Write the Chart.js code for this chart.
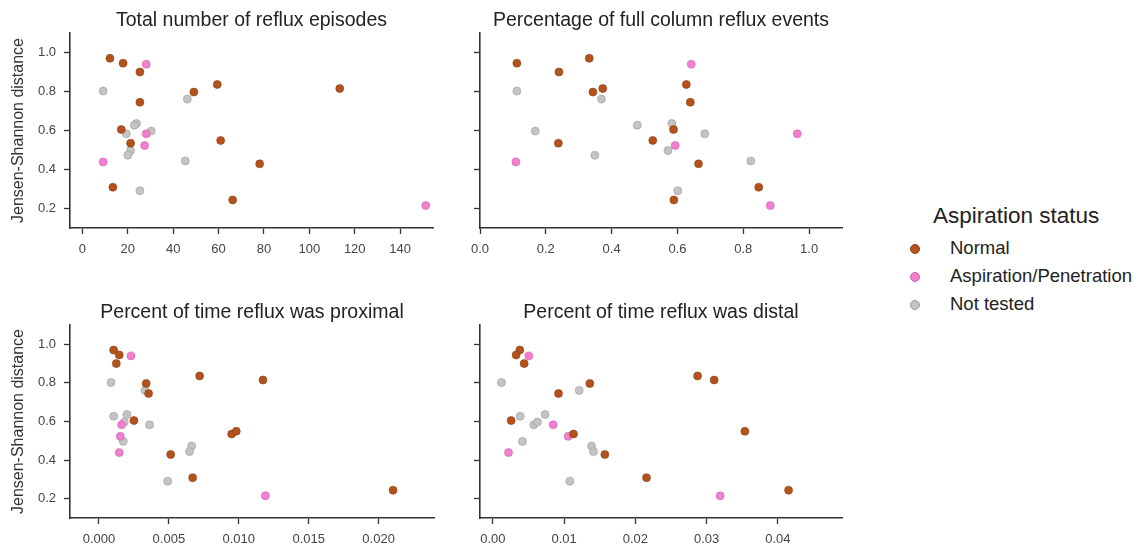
<!DOCTYPE html>
<html>
<head>
<meta charset="utf-8">
<script src="https://cdn.jsdelivr.net/npm/chart.js@4"></script>
<style>
body { margin: 0; background: #fff; width: 1140px; height: 550px; position: relative; overflow: hidden; font-family: "Liberation Sans", Arial, sans-serif; }
canvas { position: absolute; }
#legend { position: absolute; left: 0; top: 0; color: #222; }
#legend .ttl { position: absolute; left: 933px; top: 203px; font-size: 22.5px; white-space: nowrap; }
#legend .item { position: absolute; left: 950px; font-size: 18.5px; white-space: nowrap; line-height: 22px; }
#legend .dot { position: absolute; width: 8px; height: 8px; border-radius: 50%; left: 910px; }
</style>
</head>
<body>
<canvas id="c1" width="440" height="270" style="left:0;top:0"></canvas>
<canvas id="c2" width="420" height="270" style="left:440px;top:0"></canvas>
<canvas id="c3" width="440" height="270" style="left:0;top:292px"></canvas>
<canvas id="c4" width="420" height="270" style="left:440px;top:292px"></canvas>
<div id="legend"></div>
<script>
// Jensen-Shannon distance per subject, grouped by aspiration status
var statusLabels = ['Normal', 'Aspiration/Penetration', 'Not tested'];
var statusColors = ['#b3521c', '#f27fcf', '#c4c4c4'];
var statusEdges = ['#8f4216', '#c964a8', '#9a9a9a'];

var jsdNormal = [0.97, 0.945, 0.90, 0.745, 0.797, 0.836, 0.815, 0.605, 0.535, 0.549, 0.429, 0.309, 0.244];
var jsdAsp = [0.94, 0.583, 0.523, 0.439, 0.215];
var jsdNotTested = [0.802, 0.761, 0.636, 0.627, 0.583, 0.597, 0.497, 0.473, 0.444, 0.291];

// x values, same order as the jsd arrays
var totalNormal = [12.1, 17.9, 25.3, 25.3, 49.1, 59.4, 113.4, 17.1, 21.2, 60.9, 78.1, 13.4, 66.2];
var totalAsp = [28.1, 28.1, 27.4, 9.1, 151.3];
var totalNotTested = [9.1, 46.2, 23.8, 22.9, 19.3, 30.3, 21.2, 20.0, 45.3, 25.3];

var fullColNormal = [0.332, 0.112, 0.240, 0.639, 0.343, 0.627, 0.373, 0.588, 0.238, 0.525, 0.664, 0.847, 0.589];
var fullColAsp = [0.642, 0.964, 0.593, 0.109, 0.882];
var fullColNotTested = [0.112, 0.369, 0.583, 0.478, 0.683, 0.168, 0.571, 0.349, 0.823, 0.601];

var proxNormal = [0.00105, 0.00145, 0.00124, 0.00355, 0.00338, 0.0072, 0.01173, 0.0025, 0.00949, 0.00982, 0.00513, 0.0067, 0.02103];
var proxAsp = [0.00229, 0.00162, 0.00153, 0.00145, 0.0119];
var proxNotTested = [0.00086, 0.00329, 0.002, 0.00105, 0.00362, 0.00181, 0.00174, 0.00663, 0.00648, 0.00491];

var distNormal = [0.00379, 0.00327, 0.0044, 0.00922, 0.01361, 0.02873, 0.03106, 0.00257, 0.01132, 0.03537, 0.01572, 0.02157, 0.0415];
var distAsp = [0.00505, 0.00847, 0.01057, 0.0022, 0.0319];
var distNotTested = [0.00122, 0.01212, 0.00734, 0.00384, 0.00575, 0.00627, 0.00416, 0.01385, 0.01413, 0.01081];

var yTicks = [0.2, 0.4, 0.6, 0.8, 1.0];
var totalTicks = [0, 20, 40, 60, 80, 100, 120, 140];
var fullColTicks = [0.0, 0.2, 0.4, 0.6, 0.8, 1.0];
var proxTicks = [0.000, 0.005, 0.010, 0.015, 0.020];
var distTicks = [0.00, 0.01, 0.02, 0.03, 0.04];

Chart.defaults.font.family = '"Liberation Sans", Arial, sans-serif';
Chart.defaults.color = '#333';

// subplot title centred over the plot area, like matplotlib does
var panelTitle = {
	id: 'panelTitle',
	afterDraw: function (chart, args, opts) {
		var ca = chart.chartArea;
		var c = chart.ctx;
		c.save();
		c.font = '19.5px "Liberation Sans", Arial, sans-serif';
		c.fillStyle = '#222';
		c.textAlign = 'center';
		c.textBaseline = 'middle';
		c.fillText(opts.text, (ca.left + ca.right) / 2, 21);
		c.restore();
	}
};

function pts(xs, ys) {
	var out = [];
	for (var i = 0; i < xs.length; i++) out.push({ x: xs[i], y: ys[i] });
	return out;
}

function makeChart(id, xsets, cfg) {
	var ysets = [jsdNormal, jsdAsp, jsdNotTested];
	var datasets = [];
	for (var k = 0; k < 3; k++) {
		datasets.push({
			label: statusLabels[k],
			data: pts(xsets[k], ysets[k]),
			backgroundColor: statusColors[k],
			borderColor: statusEdges[k],
			borderWidth: 0.6,
			pointRadius: 4
		});
	}
	var ctx = document.getElementById(id).getContext('2d');
	return new Chart(ctx, {
		type: 'scatter',
		data: { datasets: datasets },
		plugins: [panelTitle],
		options: {
			responsive: false,
			animation: false,
			layout: { padding: { left: 0, right: cfg.padRight, top: 33, bottom: 0 } },
			plugins: {
				legend: { display: false },
				tooltip: { enabled: false },
				panelTitle: { text: cfg.title }
			},
			scales: {
				x: {
					type: 'linear',
					min: cfg.xmin,
					max: cfg.xmax,
					afterBuildTicks: function (s) { s.ticks = cfg.xticks.map(function (v) { return { value: v }; }); },
					afterFit: function (s) { s.height = cfg.xH; },
					ticks: {
						maxRotation: 0,
						padding: 8,
						color: '#444',
						font: { size: 13 },
						callback: function (v) { return Number(v).toFixed(cfg.dec); }
					},
					grid: { drawOnChartArea: false, tickLength: 6, tickColor: '#333', tickWidth: 1.3 },
					border: { color: '#333', width: 1.6 }
				},
				y: {
					type: 'linear',
					min: 0.1,
					max: 1.1,
					afterBuildTicks: function (s) { s.ticks = yTicks.map(function (v) { return { value: v }; }); },
					afterFit: function (s) { s.width = cfg.yW; },
					ticks: {
						padding: 8,
						color: '#444',
						font: { size: 13 },
						callback: function (v) { return cfg.yLabels ? Number(v).toFixed(1) : ''; }
					},
					title: {
						display: cfg.yLabels,
						text: 'Jensen-Shannon distance',
						color: '#333',
						font: { size: 16 },
						padding: { top: 9, bottom: 0 }
					},
					grid: { drawOnChartArea: false, tickLength: 6, tickColor: '#333', tickWidth: 1.3 },
					border: { color: '#333', width: 1.6 }
				}
			}
		}
	});
}

window.onload = function () {
	makeChart('c1', [totalNormal, totalAsp, totalNotTested], {
		title: 'Total number of reflux episodes', xmin: -5.5, xmax: 154.5, xticks: totalTicks, dec: 0,
		yLabels: true, yW: 70, xH: 42, padRight: 7
	});
	makeChart('c2', [fullColNormal, fullColAsp, fullColNotTested], {
		title: 'Percentage of full column reflux events', xmin: 0, xmax: 1.1, xticks: fullColTicks, dec: 1,
		yLabels: false, yW: 40, xH: 42, padRight: 18
	});
	makeChart('c3', [proxNormal, proxAsp, proxNotTested], {
		title: 'Percent of time reflux was proximal', xmin: -0.00207, xmax: 0.02396, xticks: proxTicks, dec: 3,
		yLabels: true, yW: 70, xH: 44, padRight: 6
	});
	makeChart('c4', [distNormal, distAsp, distNotTested], {
		title: 'Percent of time reflux was distal', xmin: -0.0018, xmax: 0.049, xticks: distTicks, dec: 2,
		yLabels: false, yW: 40, xH: 44, padRight: 18
	});

	// legend drawn as html text
	var leg = document.getElementById('legend');
	var html = '<div class="ttl">Aspiration status</div>';
	var ys = [248, 276, 304];
	for (var i = 0; i < statusLabels.length; i++) {
		html += '<div class="dot" style="top:' + (ys[i] - 4) + 'px;background:' + statusColors[i] + ';border:0.5px solid ' + statusEdges[i] + '"></div>';
		html += '<div class="item" style="top:' + (ys[i] - 11) + 'px">' + statusLabels[i] + '</div>';
	}
	leg.innerHTML = html;
};
</script>
</body>
</html>
